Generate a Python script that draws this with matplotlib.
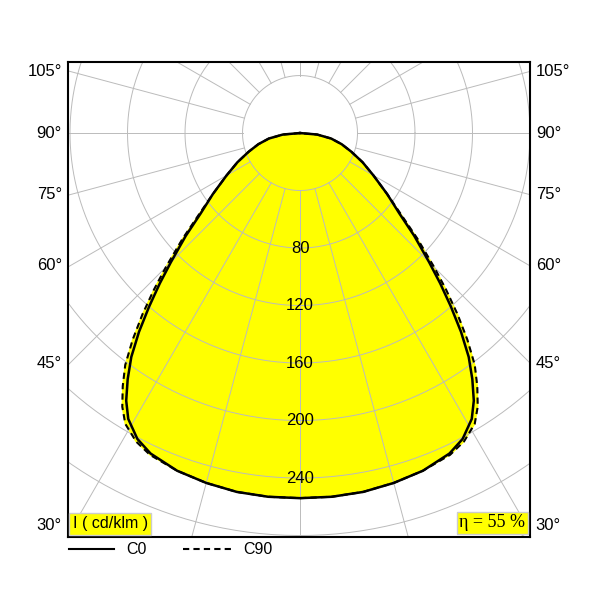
import numpy as np
import matplotlib.pyplot as plt

# angle from nadir (deg) and intensity (cd/klm), left half mirrored
ang = [0, 5, 10, 15, 20, 25, 28, 31, 33, 35, 37, 39, 41, 43, 45, 48, 51, 55, 60, 65, 70, 75, 80, 85, 90]
c0 = [254, 254, 253.5, 252, 250, 246, 241, 232, 222, 209, 195, 178, 160, 143, 127, 107, 89, 74, 59, 48, 38, 30, 22, 12, 0]
c90 = [254, 254, 253.5, 252, 250, 247, 243, 236, 227, 215, 202, 185, 167, 149, 132, 110, 91, 74, 59, 48, 38, 30, 22, 12, 0]
ring_labels = [80, 120, 160, 200, 240]
side_angles = [30, 45, 60, 75, 90, 105]

def xy(a, r):
    a = np.radians(np.array(a))
    r = np.array(r)
    x = np.concatenate([-(r * np.sin(a))[::-1], (r * np.sin(a))[1:]])
    y = np.concatenate([-(r * np.cos(a))[::-1], -(r * np.cos(a))[1:]])
    return x, y

fig = plt.figure(figsize=(6, 6), dpi=100)
ax = fig.add_axes([68/600, 63/600, 462/600, 475/600])
xmin, xmax, ymin, ymax = -161.4, 160, -281, 49.4
ax.set_xlim(xmin, xmax)
ax.set_ylim(ymin, ymax)
ax.set_aspect('equal')
ax.set_xticks([]); ax.set_yticks([])
for s in ax.spines.values():
    s.set_linewidth(1.5)

x0, y0 = xy(ang, c0)
x9, y9 = xy(ang, c90)
ax.fill(x9, y9, color='#ffff00', zorder=1)
ax.fill(x0, y0, color='#ffff00', zorder=1)

t = np.linspace(0, 2*np.pi, 400)
for r in range(40, 360, 40):
    ax.plot(r*np.cos(t), r*np.sin(t), color='#bbbbbb', lw=0.7, zorder=2)
for d in range(0, 360, 15):
    a = np.radians(d)
    ax.plot([40*np.sin(a), 400*np.sin(a)], [-40*np.cos(a), -400*np.cos(a)],
            color='#bbbbbb', lw=0.7, zorder=2)

ax.plot(x0, y0, color='black', lw=1.8, zorder=4)
ax.plot(x9, y9, color='black', lw=1.5, ls=(0, (3, 2)), zorder=3)

for v in ring_labels:
    ax.text(0, -v, str(v), ha='center', va='center', fontsize=12,
            fontfamily='Liberation Sans', zorder=5)

for d in side_angles:
    if d < 90:
        y = -160 / np.tan(np.radians(d))
    else:
        y = 160 * np.tan(np.radians(d - 90))
    y = max(y, -273)
    yf = (y - ymin) / (ymax - ymin) * (475/600) + 63/600
    fig.text(0.103, yf, f'{d}°', ha='right', va='center', fontsize=12, fontfamily='Liberation Sans')
    fig.text(0.893, yf, f'{d}°', ha='left', va='center', fontsize=12, fontfamily='Liberation Sans')

ax.text(0.01, 0.012, 'I ( cd/klm )', transform=ax.transAxes, fontsize=11.5,
        fontfamily='Liberation Sans', va='bottom', ha='left', zorder=6,
        bbox=dict(facecolor='#ffff00', edgecolor='#cccccc', pad=2.5))
ax.text(0.99, 0.012, 'η = 55 %', transform=ax.transAxes, fontsize=13,
        fontfamily='Liberation Serif', va='bottom', ha='right', zorder=6,
        bbox=dict(facecolor='#ffff00', edgecolor='#cccccc', pad=2))

fig.lines.append(plt.Line2D([0.115, 0.19], [0.085, 0.085], color='black', lw=1.5, transform=fig.transFigure))
fig.text(0.21, 0.085, 'C0', va='center', fontsize=11.5, fontfamily='Liberation Sans')
fig.lines.append(plt.Line2D([0.305, 0.39], [0.085, 0.085], color='black', lw=1.5, ls=(0, (3, 2)), transform=fig.transFigure))
fig.text(0.405, 0.085, 'C90', va='center', fontsize=11.5, fontfamily='Liberation Sans')

fig.savefig('out.png')
